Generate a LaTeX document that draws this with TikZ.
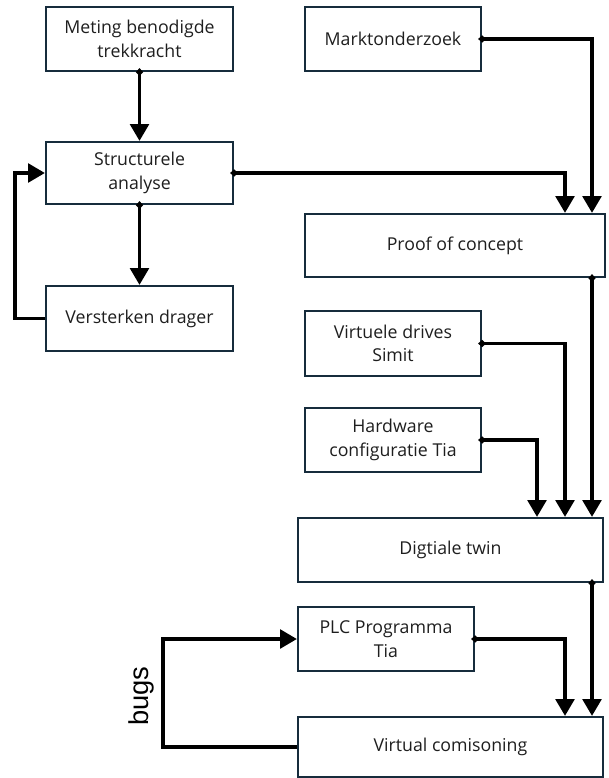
\documentclass[tikz,border=0pt]{standalone}
\usepackage{fontspec}
\setmainfont{Open Sans}
\newfontfamily\bugsfont{Liberation Sans}
\usetikzlibrary{arrows.meta}
\definecolor{boxline}{RGB}{22,44,60}
\definecolor{txt}{RGB}{30,30,30}
\tikzset{
  box/.style={draw=boxline, line width=1.7pt, inner sep=0pt, align=center,
    text=txt, font=\fontsize{13.3pt}{17.5pt}\selectfont},
  conn/.style={line width=2.3pt, black,
    {Diamond[length=6pt,width=5.5pt]}-{Triangle[length=12.5pt,width=14pt]},
    shorten <=-3pt},
  loopconn/.style={line width=2.3pt, black, -{Triangle[length=12.5pt,width=14pt]}}
}
\begin{document}
\begin{tikzpicture}[x=0.75pt,y=-0.75pt]
\useasboundingbox (0,0) rectangle (608,778);
\node[box, minimum width=140.25pt, minimum height=48pt] (meting) at (139.5,39) {Meting benodigde\\trekkracht};
\node[box, minimum width=140.25pt, minimum height=46.5pt] (struct) at (139.5,173) {Structurele\\analyse};
\node[box, minimum width=140.25pt, minimum height=48.75pt] (verst) at (139.5,318.5) {Versterken drager};
\node[box, minimum width=132pt, minimum height=48pt] (markt) at (393,39) {Marktonderzoek};
\node[box, minimum width=225pt, minimum height=47.25pt] (proof) at (455,245.5) {Proof of concept};
\node[box, minimum width=132pt, minimum height=48.75pt] (vd) at (393,343.5) {Virtuele drives\\Simit};
\node[box, minimum width=132pt, minimum height=48pt] (hw) at (393,440) {Hardware\\configuratie Tia};
\node[box, minimum width=228.75pt, minimum height=48pt] (dt) at (450.5,550) {Digtiale twin};
\node[box, minimum width=132pt, minimum height=48pt] (plc) at (386,639) {PLC Programma\\Tia};
\node[box, minimum width=228.75pt, minimum height=45pt] (vc) at (450.5,747) {Virtual comisoning};
\coordinate (xa) at (537,0);
\coordinate (xb) at (565,0);
\coordinate (xc) at (592,0);
\coordinate (xl) at (15,0);
\coordinate (xm) at (163,0);
% left column
\draw[conn] (meting.south) -- (struct.north);
\draw[conn] (struct.south) -- (verst.north);
\draw[loopconn] (verst.west) -| (xl |- struct.west) -- (struct.west);
% into proof of concept
\draw[conn] (struct.east) -| (xb |- proof.north);
\draw[conn] (markt.east) -| (xc |- proof.north);
% into digital twin
\draw[conn] (xc |- proof.south) -- (xc |- dt.north);
\draw[conn] (vd.east) -| (xb |- dt.north);
\draw[conn] (hw.east) -| (xa |- dt.north);
% into virtual commissioning
\draw[conn] (xc |- dt.south) -- (xc |- vc.north);
\draw[conn] (plc.east) -| (xb |- vc.north);
\draw[loopconn] (vc.west) -| (xm |- plc.west) -- (plc.west);
\node[font=\bugsfont\fontsize{20.5pt}{24pt}\selectfont, rotate=90, anchor=south, inner sep=0pt] (bugs) at (154,696) {bugs};
\end{tikzpicture}
\end{document}
